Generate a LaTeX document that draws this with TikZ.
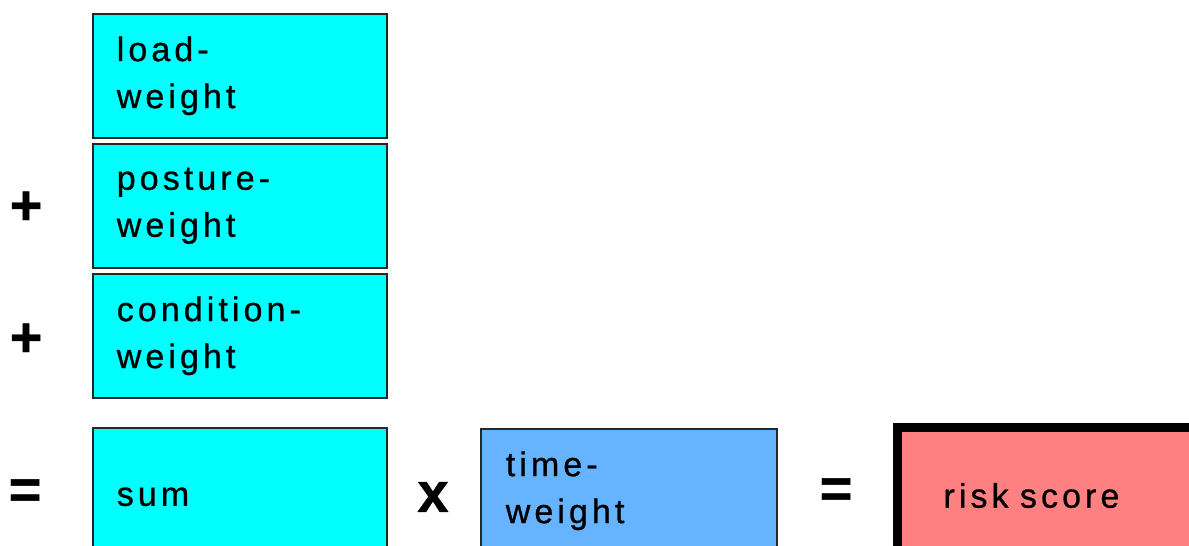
\documentclass[tikz,border=0pt]{standalone}
\usepackage{fontspec}
\setmainfont{Liberation Sans}[LetterSpace=12,FakeBold=0.8]
\definecolor{wcyan}{HTML}{00FFFF}
\definecolor{wblue}{HTML}{66B3FF}
\definecolor{wred}{HTML}{FF8080}
\begin{document}
\begin{tikzpicture}[x=1pt,y=-1pt,
		wbox/.style={draw=black!85,line width=1.6pt,fill=wcyan,anchor=north west,
			minimum width=294pt,minimum height=124pt,text width=246pt,align=left,
			inner xsep=24pt,inner ysep=0pt,font=\fontsize{34}{47}\selectfont},
		op/.style={font=\fontsize{56}{56}\selectfont\bfseries,inner sep=0pt}]
		\useasboundingbox (0,0) rectangle (1189,546);
		\node[wbox] (load) at (92,13) {load-\\weight};
		\node[wbox] (posture) at (92,143) {posture-\\weight};
		\node[wbox] (condition) at (92,273) {condition-\\weight};
		\node[wbox,minimum height=138pt] (sum) at (92,427) {sum};
		\node[wbox,fill=wblue,minimum width=296pt] (time) at (480,428) {time-\\weight};
		\node[wbox,fill=wred,draw=black,line width=9pt,minimum width=330pt,minimum height=136pt,
			text width=250pt,inner xsep=46pt] (risk) at (893,423) {risk score};
		\node[op] (plusA) at (26,208) {+};
		\node[op] (plusB) at (26,340) {+};
		\node[op] (eqA) at (25,494) {=};
		\node[op] (times) at (433,497) {x};
		\node[op] (eqB) at (836,493) {=};
\end{tikzpicture}
\end{document}
